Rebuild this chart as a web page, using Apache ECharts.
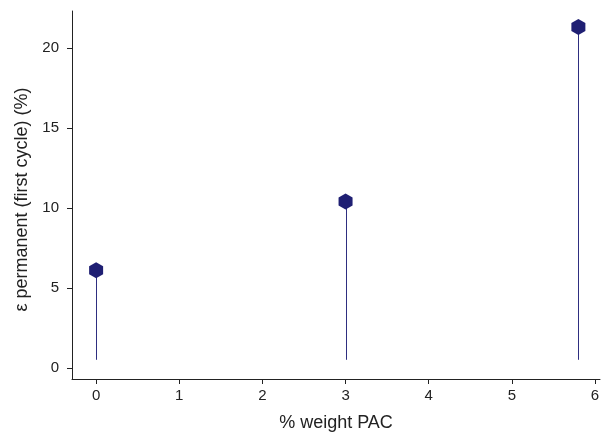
<!DOCTYPE html>
<html>
<head>
<meta charset="utf-8">
<script src="https://cdn.jsdelivr.net/npm/echarts@6/dist/echarts.min.js"></script>
<style>
  html, body { margin: 0; padding: 0; background: #fff; }
  #main { width: 604px; height: 432px; }
</style>
</head>
<body>
<div id="main"></div>
<script>
// data
const pacWeight = [0, 3, 5.8];
const epsPermanent = [6.1, 10.4, 21.3];
const stemBase = 0.5;
const xTicks = [0, 1, 2, 3, 4, 5, 6];
const yTicks = [0, 5, 10, 15, 20];

const navy = '#1f1f73';
const font = 'Liberation Sans, Arial, sans-serif';

const chart = echarts.init(document.getElementById('main'));

const option = {
  animation: false,
  grid: { left: 72, right: 4, top: 11, bottom: 53, containLabel: false, outerBoundsMode: 'none' },
  xAxis: {
    type: 'value',
    min: -0.29,
    max: 6.06,
    name: '% weight PAC',
    nameLocation: 'middle',
    nameGap: 35,
    nameTextStyle: { color: '#222', fontSize: 18, fontFamily: font },
    axisLine: { onZero: false, lineStyle: { color: '#222', width: 1 } },
    axisTick: { show: true, length: 5, customValues: xTicks, lineStyle: { color: '#222' } },
    axisLabel: { customValues: xTicks, color: '#222', fontSize: 15, fontFamily: font, margin: 9 },
    splitLine: { show: false }
  },
  yAxis: {
    type: 'value',
    min: -0.7,
    max: 22.3,
    name: 'ε permanent (first cycle) (%)',
    nameLocation: 'middle',
    nameGap: 41,
    nameTextStyle: { color: '#222', fontSize: 18, fontFamily: font, padding: [0, 9, 0, 0] },
    axisLine: { show: true, onZero: false, lineStyle: { color: '#222', width: 1 } },
    axisTick: { show: true, length: 5, customValues: yTicks, lineStyle: { color: '#222' } },
    axisLabel: { customValues: yTicks, color: '#222', fontSize: 15, fontFamily: font, margin: 13 },
    splitLine: { show: false }
  },
  series: [
    {
      // stems
      type: 'custom',
      data: pacWeight.map((x, i) => [x, epsPermanent[i]]),
      renderItem: function (params, api) {
        const top = api.coord([api.value(0), api.value(1)]);
        const bottom = api.coord([api.value(0), stemBase]);
        return {
          type: 'line',
          shape: { x1: Math.round(bottom[0]) + 0.5, y1: bottom[1], x2: Math.round(top[0]) + 0.5, y2: top[1] },
          style: { stroke: '#2e2e80', lineWidth: 1 }
        };
      },
      z: 2
    },
    {
      type: 'scatter',
      data: pacWeight.map((x, i) => [x, epsPermanent[i]]),
      symbol: 'path://M0,-1L0.866,-0.5L0.866,0.5L0,1L-0.866,0.5L-0.866,-0.5Z',
      symbolSize: [14, 16],
      itemStyle: { color: navy, opacity: 1 },
      z: 3
    }
  ]
};

chart.setOption(option);
</script>
</body>
</html>
